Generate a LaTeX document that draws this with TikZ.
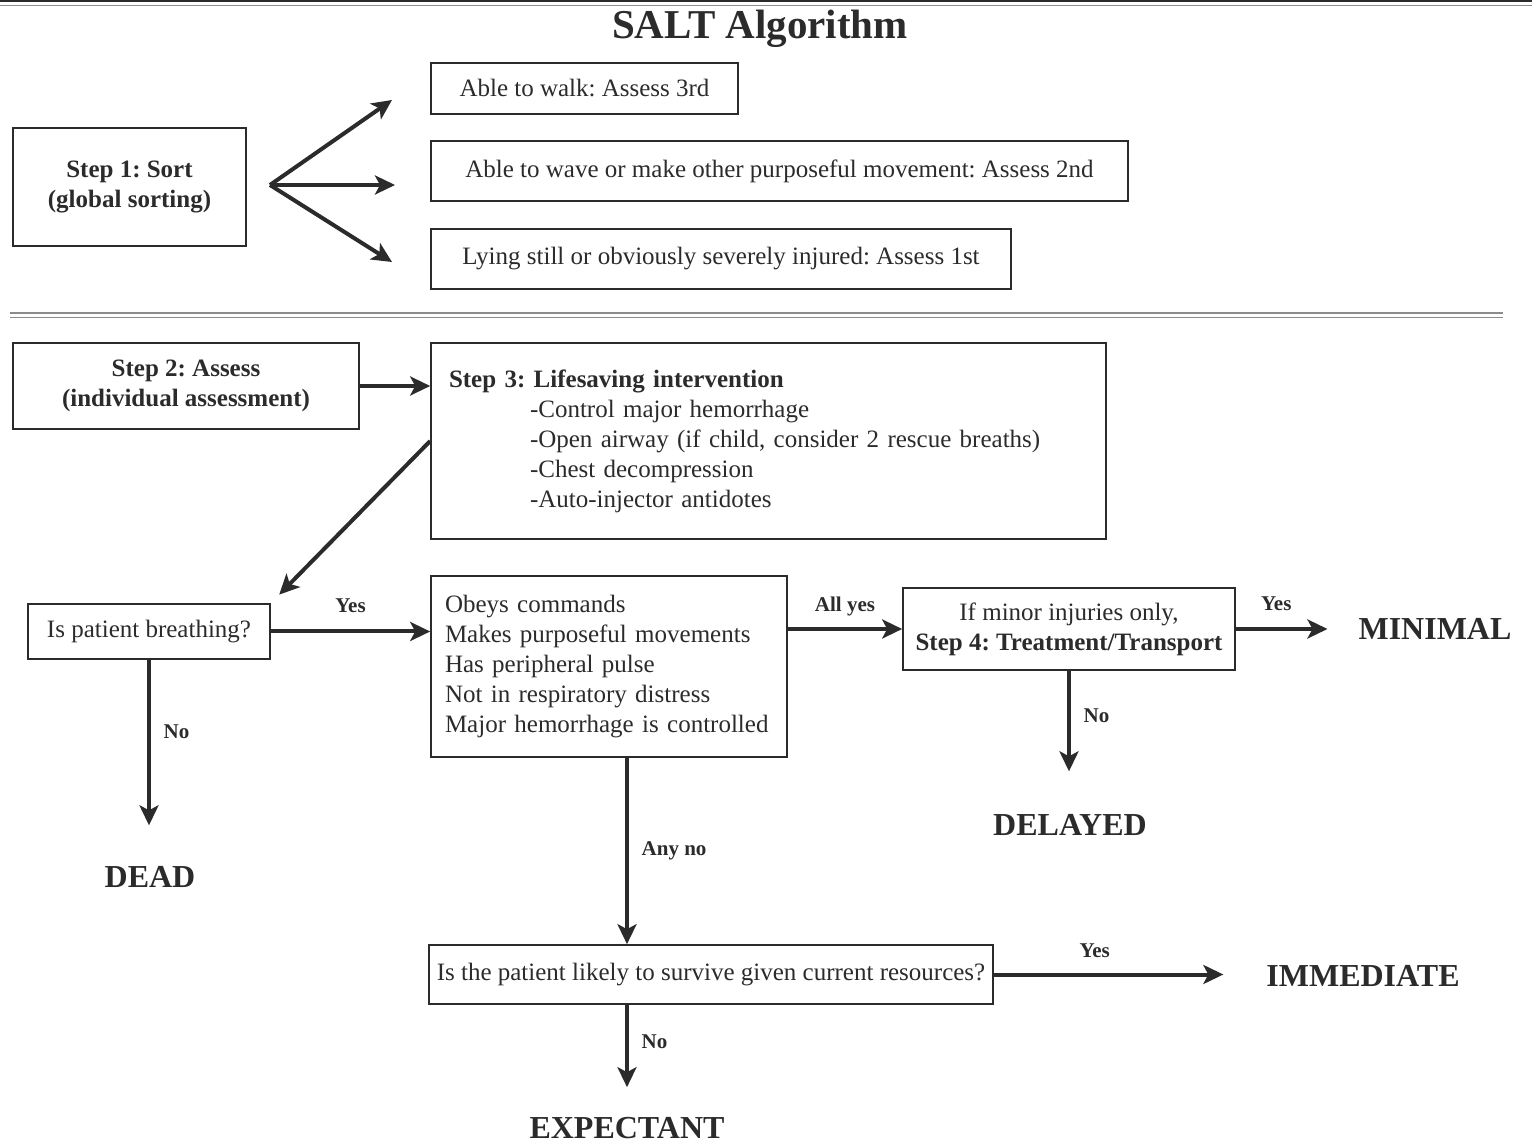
\documentclass[tikz,border=0pt]{standalone}
\usepackage{fontspec}
\setmainfont{Liberation Serif}
\usetikzlibrary{arrows.meta}
\usetikzlibrary{positioning}
\definecolor{ink}{HTML}{2B2B2B}
\definecolor{rulegray}{HTML}{8C8C8C}
\frenchspacing

\begin{document}
\begin{tikzpicture}[x=0.5pt, y=-0.5pt]
    \tikzset{
      >={Stealth[length=10pt, width=9.5pt, inset=2.5pt]},
      box/.style={draw=ink, line width=0.8pt, text=ink, inner sep=0pt,
        align=center, font=\fontsize{12.5}{15}\selectfont},
      listbox/.style={box, align=left, inner xsep=9pt},
      term/.style={text=ink, font=\fontsize{16}{19}\selectfont\bfseries},
      lbl/.style={text=ink, font=\fontsize{10.5}{12}\selectfont\bfseries},
      flow/.style={->, ink, line width=2pt},
    }
    \useasboundingbox (0,0) rectangle (1532,1143);

    \draw[ink, line width=1pt] (0,1) -- (1532,1);
    \draw[rulegray, line width=0.8pt] (0,5.5) -- (1532,5.5);
    \draw[rulegray, line width=0.8pt] (10,313) -- (1503,313);
    \draw[rulegray, line width=0.8pt] (10,317.5) -- (1503,317.5);

    \node[text=ink, font=\fontsize{20.5}{24}\selectfont\bfseries] (title) at (760,29) {SALT Algorithm};

    \node[box, minimum width=116.5pt, minimum height=59pt, font=\fontsize{12.5}{15}\selectfont\bfseries]
      (sort) at (129.5,187) {Step 1: Sort\\(global sorting)};
    \node[box, minimum width=153.5pt, minimum height=25.5pt] (walk) at (584.5,88.5) {Able to walk: Assess 3rd};
    \node[box, minimum width=348.5pt, minimum height=30pt] (wave) at (779.5,171)
      {Able to wave or make other purposeful movement: Assess 2nd};
    \node[box, minimum width=290pt, minimum height=30pt] (lying) at (721,259)
      {Lying still or obviously severely injured: Assess 1st};
    \coordinate (fork) at (270,185);
    \coordinate (up) at (392,100);
    \coordinate (mid) at (395,185);
    \coordinate (down) at (392,262);

    \node[box, minimum width=173pt, minimum height=43pt, font=\fontsize{12.5}{15}\selectfont\bfseries]
      (assess) at (186,386) {Step 2: Assess\\(individual assessment)};
    \node[listbox, text width=319.5pt, minimum height=98pt] (lsi) at (768.5,441)
      {\textbf{Step 3: Lifesaving intervention}\\
       \hspace*{40.5pt}-Control major hemorrhage\\
       \hspace*{40.5pt}-Open airway (if child, consider 2 rescue breaths)\\
       \hspace*{40.5pt}-Chest decompression\\
       \hspace*{40.5pt}-Auto-injector antidotes};
    \node[box, minimum width=121pt, minimum height=27.5pt] (breath) at (149,631.5) {Is patient breathing?};
    \node[listbox, inner xsep=7pt, text width=164pt, minimum height=90.5pt] (obey) at (609,666.5)
      {Obeys commands\\Makes purposeful movements\\Has peripheral pulse\\
       Not in respiratory distress\\Major hemorrhage is controlled};
    \node[box, minimum width=166pt, minimum height=41pt] (minor) at (1069,629)
      {If minor injuries only,\\\textbf{Step 4: Treatment/Transport}};
    \node[box, minimum width=282pt, minimum height=29.5pt] (survive) at (711,974.5)
      {Is the patient likely to survive given current resources?};

    \node[term] (dead) at (150,877) {DEAD};
    \node[term] (delayed) at (1070,825) {DELAYED};
    \node[term] (minimal) at (1435,629) {MINIMAL};
    \node[term] (immediate) at (1363,976) {IMMEDIATE};
    \node[term] (expectant) at (627,1128) {EXPECTANT};

    \path[flow]
      (fork) edge (up)
      (fork) edge (mid)
      (fork) edge (down)
      (assess.east) edge (assess.east -| lsi.west)
      (lsi.west) edge[shorten >=6pt] (breath.north east)
      (breath.east) edge node[lbl, above=5pt] {Yes} (breath.east -| obey.west)
      (breath.south) edge[shorten >=17pt] node[lbl, right=3pt, pos=0.36] {No} (breath.south |- dead.north)
      (obey.east |- minor.west) edge node[lbl, above=2pt] {All yes} (minor.west)
      (minor.east) edge[shorten >=12pt] node[lbl, above=5pt, pos=0.35] {Yes} (minor.east -| minimal.west)
      (minor.south) edge[shorten >=18pt] node[lbl, right=3pt, pos=0.33] {No} (minor.south |- delayed.north)
      (obey.south -| expectant) edge node[lbl, right=3pt] {Any no} (survive.north -| expectant)
      (survive.east) edge[shorten >=18pt] node[lbl, above=4pt, pos=0.38] {Yes} (survive.east -| immediate.west)
      (survive.south -| expectant) edge[shorten >=11.5pt] node[lbl, right=3pt, pos=0.35] {No} (expectant.north);
\end{tikzpicture}
\end{document}
